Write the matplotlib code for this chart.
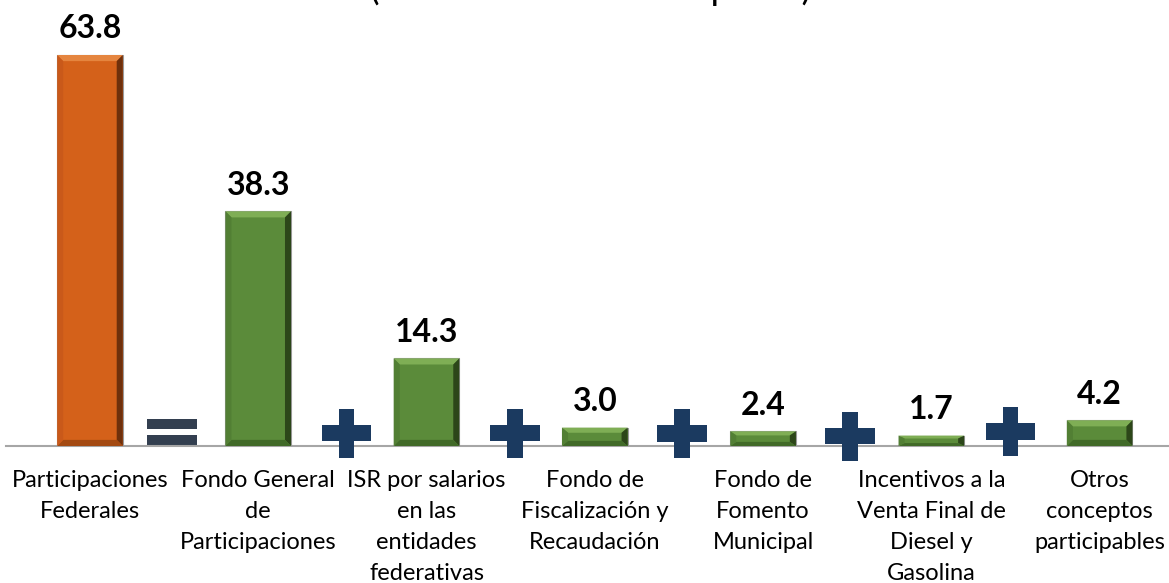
import matplotlib
matplotlib.use("Agg")
from matplotlib import pyplot as plt
from matplotlib.patches import Rectangle, Polygon

plt.rcParams['font.family'] = ['Lato', 'DejaVu Sans']

categories = ["Participaciones\nFederales",
              "Fondo General\nde\nParticipaciones",
              "ISR por salarios\nen las\nentidades\nfederativas",
              "Fondo de\nFiscalización y\nRecaudación",
              "Fondo de\nFomento\nMunicipal",
              "Incentivos a la\nVenta Final de\nDiesel y\nGasolina",
              "Otros\nconceptos\nparticipables"]
values = [63.8, 38.3, 14.3, 3.0, 2.4, 1.7, 4.2]
value_labels = ["63.8", "38.3", "14.3", "3.0", "2.4", "1.7", "4.2"]
title = "(Miles de millones de pesos)"

orange = dict(face="#D4611A", top="#E5853F", right="#6E300C", bottom="#A44A12", left="#C9591A")
green = dict(face="#5B8B3A", top="#7FAE55", right="#2C4619", bottom="#416A28", left="#527F34")

fig = plt.figure(figsize=(11.69, 5.83), dpi=100)
ax = fig.add_axes([5.8 / 1169, 1 - 446 / 583, 1178 / 1169, 429 / 583])

x = list(range(len(values)))
bw = 0.39
bars = ax.bar(x, values, width=bw, color=[orange["face"]] + [green["face"]] * 6,
              edgecolor="#9A9A9A", linewidth=0.8, zorder=2)

# bevel effect
for i, b in enumerate(bars):
    c = orange if i == 0 else green
    x0, y0 = b.get_x(), b.get_y()
    w, h = b.get_width(), b.get_height()
    dx = 0.036
    dy = min(1.0, h * 0.28)
    x1, y1 = x0 + w, y0 + h
    ax.add_patch(Polygon([(x0, y1), (x1, y1), (x1 - dx, y1 - dy), (x0 + dx, y1 - dy)],
                         closed=True, facecolor=c["top"], edgecolor="none", zorder=3))
    ax.add_patch(Polygon([(x1, y1), (x1, y0), (x1 - dx, y0 + dy), (x1 - dx, y1 - dy)],
                         closed=True, facecolor=c["right"], edgecolor="none", zorder=3))
    ax.add_patch(Polygon([(x0, y0), (x1, y0), (x1 - dx, y0 + dy), (x0 + dx, y0 + dy)],
                         closed=True, facecolor=c["bottom"], edgecolor="none", zorder=3))
    ax.add_patch(Polygon([(x0, y0), (x0, y1), (x0 + dx, y1 - dy), (x0 + dx, y0 + dy)],
                         closed=True, facecolor=c["left"], edgecolor="none", zorder=3))
    ax.annotate(value_labels[i], (b.get_x() + w / 2, h), xytext=(0, 12),
                textcoords="offset points", ha="center", va="baseline",
                fontsize=23, fontweight="bold", color="black")

# operators between bars
eq_col = "#333F50"
plus_col = "#1B3A60"
ex = 0.49
ax.add_patch(Rectangle((ex - 0.148, (446 - 429) / 6.13), 0.296, 10 / 6.13,
                       facecolor=eq_col, edgecolor="none", clip_on=False))
ax.add_patch(Rectangle((ex - 0.148, (446 - 445) / 6.13), 0.296, 10 / 6.13,
                       facecolor=eq_col, edgecolor="none", clip_on=False))
plus_x = [1.525, 2.525, 3.52, 4.515, 5.47]
plus_y = [2.1, 2.1, 2.0, 1.6, 2.4]
hw, ht = 0.148, 0.047
vh, vt = 4.0, 1.35
for px, py in zip(plus_x, plus_y):
    ax.add_patch(Rectangle((px - hw, py - vt), 2 * hw, 2 * vt,
                           facecolor=plus_col, edgecolor="none", clip_on=False, zorder=4))
    ax.add_patch(Rectangle((px - ht, py - vh), 2 * ht, 2 * vh,
                           facecolor=plus_col, edgecolor="none", clip_on=False, zorder=4))

ax.set_xlim(-0.5, 6.5)
ax.set_ylim(0, 70)
ax.set_xticks(x)
ax.set_xticklabels(categories, fontsize=17, linespacing=1.58)
ax.tick_params(axis="x", length=0, pad=17.5)
ax.set_yticks([])
for s in ["top", "right", "left"]:
    ax.spines[s].set_visible(False)
ax.spines["bottom"].set_color("#A6A6A6")
ax.spines["bottom"].set_linewidth(1.5)
ax.spines["bottom"].set_zorder(1)

fig.text(0.505, 1.0, title, ha="center", va="baseline", fontsize=26)

fig.savefig("out.png", dpi=100)
